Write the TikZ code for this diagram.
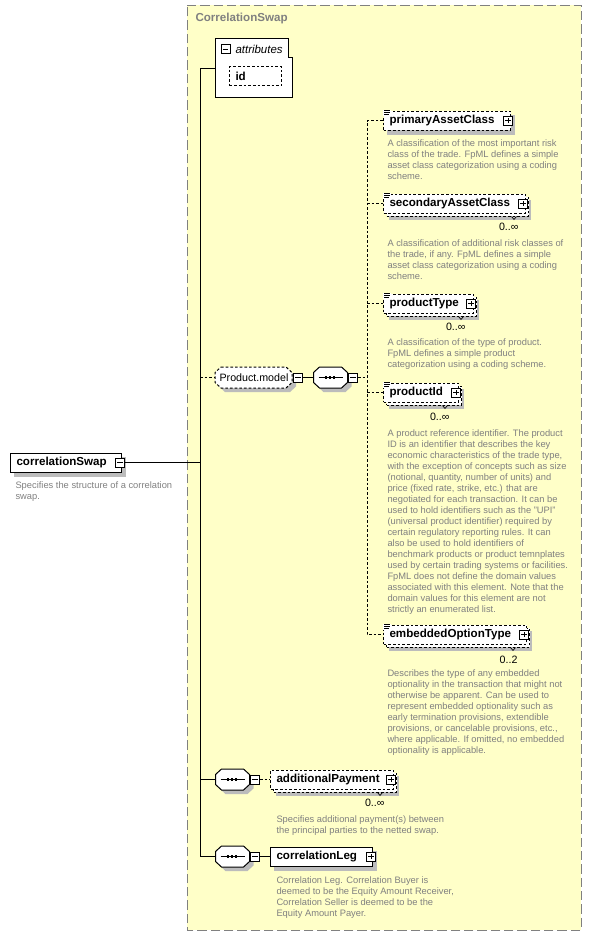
\documentclass[tikz,border=0pt]{standalone}
\usepackage{fontspec}
\setmainfont{Liberation Sans}
\usetikzlibrary{calc}

\definecolor{boxyellow}{RGB}{255,255,200}
\definecolor{framegray}{RGB}{128,128,128}
\definecolor{descgray}{RGB}{128,128,128}
\definecolor{shadowgray}{RGB}{188,188,188}

\tikzset{
  elem/.style={draw, fill=white, anchor=west, align=left, inner xsep=4.5pt, inner ysep=0pt, minimum height=14.25pt, font=\fontsize{8.7}{10}\selectfont\bfseries},
  optelem/.style={elem, dash pattern=on 2pt off 1.5pt},
  multielem/.style={optelem, preaction={draw, fill=white, dash pattern=on 2pt off 1.5pt, transform canvas={shift={(2.25pt,-2.25pt)}}}},
  shadowbox/.style={fill=shadowgray},
  groupspot/.style={rectangle, anchor=west, minimum width=57.75pt, minimum height=15.75pt, inner sep=0pt, font=\fontsize{8}{9}\selectfont},
  seqspot/.style={rectangle, anchor=west, minimum width=25.5pt, minimum height=15.75pt, inner sep=0pt},
  expbox/.style={draw, fill=white, solid, minimum size=6.75pt, inner sep=0pt},
  minusicon/.style={expbox,
    path picture={\draw[line width=0.75pt] ($(path picture bounding box.west)!0.2!(path picture bounding box.east)$) -- ($(path picture bounding box.west)!0.8!(path picture bounding box.east)$);}},
  plusicon/.style={expbox,
    path picture={\draw[line width=0.75pt] ($(path picture bounding box.west)!0.2!(path picture bounding box.east)$) -- ($(path picture bounding box.west)!0.8!(path picture bounding box.east)$);
      \draw[line width=0.75pt] ($(path picture bounding box.south)!0.2!(path picture bounding box.north)$) -- ($(path picture bounding box.south)!0.8!(path picture bounding box.north)$);}},
  desc/.style={anchor=north west, inner sep=0pt, align=left, text=descgray, font=\fontsize{7}{8.25}\selectfont},
  mult/.style={anchor=east, inner sep=0pt, font=\fontsize{8}{9}\selectfont},
  dashline/.style={dash pattern=on 2pt off 1.5pt},
  listmark/.pic={
    \fill[white] (0,1) rectangle (8,-5);
    \draw[line width=0.5pt] (1,0) -- (7,0) (1,-2) -- (7,-2) (1,-4) -- (6,-4);
  },
  multimark/.pic={\draw[line width=0.5pt] (-2.5,0) -- (0,-3) -- (2.5,0);},
  seqshape/.pic={
    \fill[shadowgray] (-7,6.5) -- (15,6.5) -- (21,1) -- (21,-9) -- (15,-14.5) -- (-7,-14.5) -- (-13,-9) -- (-13,1) -- cycle;
    \draw[fill=white] (-11,10.5) -- (11,10.5) -- (17,5) -- (17,-5) -- (11,-10.5) -- (-11,-10.5) -- (-17,-5) -- (-17,5) -- cycle;
    \draw (-12,0) -- (12,0);
    \draw[line width=2.2pt, dash pattern=on 1.8pt off 1.2pt] (-5.5,0) -- (5.5,0);
  },
  groupshape/.pic={
    \fill[shadowgray] (-28.5,6.5) -- (36.5,6.5) -- (42.5,1) -- (42.5,-9) -- (36.5,-14.5) -- (-28.5,-14.5) -- (-34.5,-9) -- (-34.5,1) -- cycle;
    \draw[fill=white, dash pattern=on 2pt off 1.5pt] (-32.5,10.5) -- (32.5,10.5) -- (38.5,5) -- (38.5,-5) -- (32.5,-10.5) -- (-32.5,-10.5) -- (-38.5,-5) -- (-38.5,5) -- cycle;
  },
}

\begin{document}
\begin{tikzpicture}[x=0.75pt,y=0.75pt,yscale=-1,xscale=1,line width=0.75pt]
    \useasboundingbox (0,0) rectangle (592,935);

    %Shape: Rectangle [complex type frame]
    \draw  [color=framegray, fill=boxyellow, dash pattern=on 7pt off 3pt] (187,5) -- (581,5) -- (581,930) -- (187,930) -- cycle ;
    % Text Node
    \draw (194,19) node (title) [anchor=west, inner sep=0.75pt, text=framegray, font=\fontsize{8.7}{10}\selectfont\bfseries] {CorrelationSwap};

    %Shape: shadows of the element boxes
    \fill [shadowbox] (14,457) -- (126,457) -- (126,477) -- (14,477) -- cycle ;
    \fill [shadowbox] (233,70) -- (286,70) -- (286,90) -- (233,90) -- cycle ;
    \fill [shadowbox] (387,115) -- (515,115) -- (515,135) -- (387,135) -- cycle ;
    \fill [shadowbox] (389,200) -- (531,200) -- (531,220) -- (389,220) -- cycle ;
    \fill [shadowbox] (389,300) -- (479,300) -- (479,320) -- (389,320) -- cycle ;
    \fill [shadowbox] (389,389) -- (464,389) -- (464,409) -- (389,409) -- cycle ;
    \fill [shadowbox] (389,631) -- (532,631) -- (532,651) -- (389,651) -- cycle ;
    \fill [shadowbox] (276,776) -- (399,776) -- (399,796) -- (276,796) -- cycle ;
    \fill [shadowbox] (274,851) -- (377,851) -- (377,871) -- (274,871) -- cycle ;

    %Shape: attributes box
    \draw  [fill=white] (215,38) -- (288,38) -- (288,57) -- (292,57) -- (292,97) -- (215,97) -- cycle ;
    \coordinate (attrin) at (215,68);
    \draw (225.5,49) node (attrmin) [minusicon] {};
    % Text Node
    \draw (234,49) node (attrlbl) [anchor=west, inner sep=0.75pt, font=\fontsize{8.6}{10}\selectfont\itshape] {attributes};
    \draw (229,76) node (idattr) [optelem, text width=30pt] {id};

    %Shape: root element
    \draw (10,462.5) node (root) [elem, text width=74.25pt] {correlationSwap};
    \draw ([xshift=-1.5pt]root.east) node (rootmin) [minusicon] {};
    % Text Node
    \draw (15,481.5) node (droot) [desc] {Specifies the structure of a correlation\\swap.};

    %Shape: Product.model group
    \pic at (253.5,377.5) {groupshape};
    \draw (215,377.5) node (pmodel) [groupspot] {Product.model};
    \draw (pmodel.east) node (pmmin) [minusicon, anchor=west] {};
    \draw (313,377.5) node (seqA) [seqspot] {};
    \pic at (seqA.center) {seqshape};
    \draw (seqA.east) node (seqAmin) [minusicon, anchor=west] {};

    %Shape: sequences of the outer content
    \draw (215,779.5) node (seqB) [seqspot] {};
    \pic at (seqB.center) {seqshape};
    \draw (seqB.east) node (seqBmin) [minusicon, anchor=west] {};
    \draw (215,856.5) node (seqC) [seqspot] {};
    \pic at (seqC.center) {seqshape};
    \draw (seqC.east) node (seqCmin) [minusicon, anchor=west] {};

    %Shape: child elements
    \draw (383,120.5) node (pac) [optelem, text width=86.25pt] {primaryAssetClass};
    \draw (383,203.5) node (sac) [multielem, text width=97.5pt] {secondaryAssetClass};
    \draw (383,303.5) node (ptype) [multielem, text width=58.5pt] {productType};
    \draw (383,392.5) node (pid) [multielem, text width=47.25pt] {productId};
    \draw (383,634.5) node (eot) [multielem, text width=98.25pt] {embeddedOptionType};
    \draw (270,779.5) node (addpay) [multielem, text width=83.25pt] {additionalPayment};
    \draw (270,856.5) node (cleg) [elem, text width=67.5pt] {correlationLeg};

    \draw ([xshift=-2.25pt]pac.east) node (pacplus) [plusicon] {};
    \draw ([xshift=-2.25pt]sac.east) node (sacplus) [plusicon] {};
    \draw ([xshift=-2.25pt]ptype.east) node (ptypeplus) [plusicon] {};
    \draw ([xshift=-2.25pt]pid.east) node (pidplus) [plusicon] {};
    \draw ([xshift=-2.25pt]eot.east) node (eotplus) [plusicon] {};
    \draw ([xshift=-2.25pt]addpay.east) node (addpayplus) [plusicon] {};
    \draw ([xshift=-1.5pt]cleg.east) node (clegplus) [plusicon] {};

    \pic at (pac.north west) {listmark};
    \pic at (sac.north west) {listmark};
    \pic at (ptype.north west) {listmark};
    \pic at (pid.north west) {listmark};
    \pic at (eot.north west) {listmark};

    % Text Node
    \draw (519,227) node (msac) [mult] {0..∞};
    % Text Node
    \draw (466,327) node (mptype) [mult] {0..∞};
    % Text Node
    \draw (450,417) node (mpid) [mult] {0..∞};
    % Text Node
    \draw (518,660) node (meot) [mult] {0..2};
    % Text Node
    \draw (385,803) node (maddpay) [mult] {0..∞};

    \pic at ($(msac.east |- sac.south)+(-5,3)$) {multimark};
    \pic at ($(mptype.east |- ptype.south)+(-5,3)$) {multimark};
    \pic at ($(mpid.east |- pid.south)+(-5,3)$) {multimark};
    \pic at ($(meot.east |- eot.south)+(-5,3)$) {multimark};
    \pic at ($(maddpay.east |- addpay.south)+(-5,3)$) {multimark};

    % Text Node
    \draw (387,139.5) node (dpac) [desc] {A classification of the most important risk\\class of the trade. FpML defines a simple\\asset class categorization using a coding\\scheme.};
    % Text Node
    \draw (387,239.5) node (dsac) [desc] {A classification of additional risk classes of\\the trade, if any. FpML defines a simple\\asset class categorization using a coding\\scheme.};
    % Text Node
    \draw (387,338.5) node (dptype) [desc] {A classification of the type of product.\\FpML defines a simple product\\categorization using a coding scheme.};
    % Text Node
    \draw (387,429.5) node (dpid) [desc] {A product reference identifier. The product\\ID is an identifier that describes the key\\economic characteristics of the trade type,\\with the exception of concepts such as size\\(notional, quantity, number of units) and\\price (fixed rate, strike, etc.) that are\\negotiated for each transaction. It can be\\used to hold identifiers such as the "UPI"\\(universal product identifier) required by\\certain regulatory reporting rules. It can\\also be used to hold identifiers of\\benchmark products or product temnplates\\used by certain trading systems or facilities.\\FpML does not define the domain values\\associated with this element. Note that the\\domain values for this element are not\\strictly an enumerated list.};
    % Text Node
    \draw (387,669.5) node (deot) [desc] {Describes the type of any embedded\\optionality in the transaction that might not\\otherwise be apparent. Can be used to\\represent embedded optionality such as\\early termination provisions, extendible\\provisions, or cancelable provisions, etc.,\\where applicable. If omitted, no embedded\\optionality is applicable.};
    % Text Node
    \draw (276,815.5) node (daddpay) [desc] {Specifies additional payment(s) between\\the principal parties to the netted swap.};
    % Text Node
    \draw (276,876.5) node (dcleg) [desc] {Correlation Leg. Correlation Buyer is\\deemed to be the Equity Amount Receiver,\\Correlation Seller is deemed to be the\\Equity Amount Payer.};

    % connectors
    \coordinate (trunk) at (200,0);
    \coordinate (ctrunk) at (367,0);
    \draw (attrin) -- (trunk |- attrin) -- (trunk |- seqC.west) -- (seqC.west);
    \draw (rootmin.east) -- (trunk |- rootmin.east);
    \draw [dashline] (trunk |- pmodel.west) -- (pmodel.west);
    \draw (trunk |- seqB.west) -- (seqB.west);
    \draw (pmmin.east) -- (seqA.west);
    \draw [dashline] (seqAmin.east) -- (ctrunk |- seqAmin.east);
    \draw [dashline] (pac.west) -- (ctrunk |- pac.west) -- (ctrunk |- eot.west) -- (eot.west);
    \draw [dashline] (ctrunk |- sac.west) -- (sac.west);
    \draw [dashline] (ctrunk |- ptype.west) -- (ptype.west);
    \draw [dashline] (ctrunk |- pid.west) -- (pid.west);
    \draw [dashline] (seqBmin.east) -- (addpay.west);
    \draw (seqCmin.east) -- (cleg.west);

\end{tikzpicture}
\end{document}
